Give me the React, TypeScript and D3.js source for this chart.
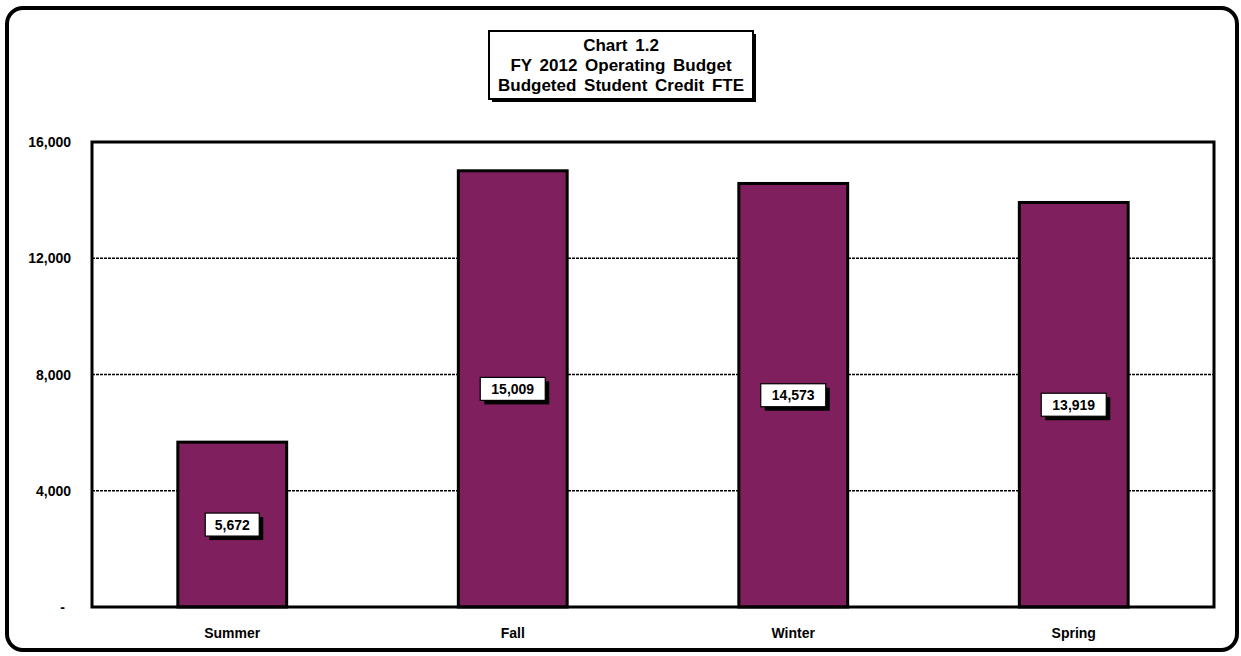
import React from "react";
import * as d3 from "d3";

const categories = ["Summer", "Fall", "Winter", "Spring"];
const fteValues = [5672, 15009, 14573, 13919];
const yTicks = [0, 4000, 8000, 12000, 16000];
const titleLines = ["Chart 1.2", "FY 2012 Operating Budget", "Budgeted Student Credit FTE"];

const W = 1241;
const H = 656;
const plot = { left: 92, right: 1214, top: 142, bottom: 607 };
const FONT = "Arial, 'Liberation Sans', Helvetica, sans-serif";

export default function App() {
  const x = d3
    .scaleBand<string>()
    .domain(categories)
    .range([plot.left, plot.right])
    .paddingInner(0.612)
    .paddingOuter(0.306);
  const y = d3.scaleLinear().domain([0, 16000]).range([plot.bottom, plot.top]);
  const fmt = d3.format(",");
  const tickFmt = (v: number) => (v === 0 ? "-" : fmt(v));

  return (
    <svg
      width={W}
      height={H}
      style={{ position: "absolute", left: 0, top: 0, fontFamily: FONT }}
    >
      <rect x={0} y={0} width={W} height={H} fill="#fff" />
      {/* outer chart border */}
      <rect x={7} y={8} width={1230} height={642} rx={16} ry={16} fill="#fff" stroke="#000" strokeWidth={4} />

      {/* title box with shadow */}
      <rect x={492} y={34} width={264} height={68} fill="#000" />
      <rect x={489} y={31} width={264} height={68} fill="#fff" stroke="#000" strokeWidth={2} />
      {titleLines.map((t, i) => (
        <text
          key={t}
          x={621}
          y={51 + i * 20}
          textAnchor="middle"
          fontSize={17}
          fontWeight="bold"
          wordSpacing={3}
          fill="#000"
        >
          {t}
        </text>
      ))}

      {/* gridlines */}
      {yTicks
        .filter((v) => v > 0 && v < 16000)
        .map((v) => (
          <line
            key={v}
            x1={plot.left}
            x2={plot.right}
            y1={y(v)}
            y2={y(v)}
            stroke="#000"
            strokeWidth={1.6}
            strokeDasharray="3 1"
          />
        ))}

      {/* bars */}
      {categories.map((c, i) => (
        <rect
          key={c}
          x={x(c)}
          y={y(fteValues[i])}
          width={x.bandwidth()}
          height={plot.bottom - y(fteValues[i])}
          fill="#801F5E"
          stroke="#000"
          strokeWidth={3}
        />
      ))}

      {/* plot frame */}
      <rect
        x={plot.left}
        y={plot.top}
        width={plot.right - plot.left}
        height={plot.bottom - plot.top}
        fill="none"
        stroke="#000"
        strokeWidth={3}
      />

      {/* y axis labels */}
      {yTicks.map((v) => (
        <text
          key={v}
          x={v === 0 ? 65 : 71}
          y={y(v) + 5}
          textAnchor="end"
          fontSize={14}
          fontWeight="bold"
          fill="#000"
        >
          {tickFmt(v)}
        </text>
      ))}

      {/* x axis labels */}
      {categories.map((c) => (
        <text
          key={c}
          x={(x(c) as number) + x.bandwidth() / 2}
          y={638}
          textAnchor="middle"
          fontSize={14}
          fontWeight="bold"
          fill="#000"
        >
          {c}
        </text>
      ))}

      {/* value labels */}
      {categories.map((c, i) => {
        const cx = (x(c) as number) + x.bandwidth() / 2;
        const cy = (y(fteValues[i]) + plot.bottom) / 2;
        const label = fmt(fteValues[i]);
        const w = label.length > 5 ? 65 : 54;
        const h = 23;
        return (
          <g key={c}>
            <rect x={cx - w / 2 + 4} y={cy - h / 2 + 4} width={w} height={h} fill="#000" />
            <rect
              x={cx - w / 2}
              y={cy - h / 2}
              width={w}
              height={h}
              fill="#fff"
              stroke="#000"
              strokeWidth={1.2}
            />
            <text x={cx} y={cy + 5} textAnchor="middle" fontSize={14} fontWeight="bold" fill="#000">
              {label}
            </text>
          </g>
        );
      })}
    </svg>
  );
}
